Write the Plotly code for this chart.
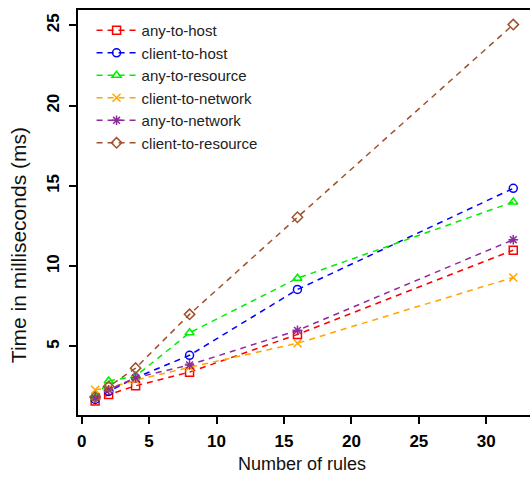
import plotly.graph_objects as go

rules = [1, 2, 4, 8, 16, 32]
series_names = ["any-to-host", "client-to-host", "any-to-resource",
                "client-to-network", "any-to-network", "client-to-resource"]
any_to_host = [1.6, 2.0, 2.55, 3.4, 5.75, 11.0]
client_to_host = [1.7, 2.2, 3.05, 4.45, 8.55, 14.85]
any_to_resource = [1.8, 2.85, 3.15, 5.85, 9.25, 14.0]
client_to_network = [2.3, 2.4, 2.9, 3.7, 5.2, 9.3]
any_to_network = [1.8, 2.3, 3.05, 3.85, 6.0, 11.65]
client_to_resource = [1.85, 2.5, 3.65, 7.0, 13.05, 25.05]

x_ticks = [0, 5, 10, 15, 20, 25, 30]
y_ticks = [5, 10, 15, 20, 25]
x_title = "Number of rules"
y_title = "Time in milliseconds (ms)"

values = [any_to_host, client_to_host, any_to_resource,
          client_to_network, any_to_network, client_to_resource]
colors = ["#FF0000", "#0000FF", "#00EE00", "#FFA500", "#8E2A9E", "#A0522D"]
symbols = ["square-open", "circle-open", "triangle-up-open",
           "x-thin-open", "asterisk-open", "diamond-open"]

fig = go.Figure()
for name, vals, c, s in zip(series_names, values, colors, symbols):
    fig.add_trace(go.Scatter(
        x=rules, y=vals, name=name, mode="lines+markers",
        line=dict(color=c, width=1.5, dash="6px,5px"),
        marker=dict(symbol=s, size=8, color=c, line=dict(color=c, width=1.5)),
    ))

axis_common = dict(
    showline=True, linecolor="black", linewidth=1.5, mirror=True,
    ticks="outside", ticklen=7, tickwidth=1.5, tickcolor="black",
    showgrid=False, zeroline=False, automargin=False,
    tickfont=dict(family="Liberation Sans", size=17, color="black", weight="bold"),
)

fig.update_layout(
    width=530, height=483,
    margin=dict(l=78, r=0, t=10, b=68),
    plot_bgcolor="white", paper_bgcolor="white",
    xaxis=dict(range=[-0.27, 33.24], tickvals=x_ticks, ticklabelstandoff=3,
               **axis_common),
    yaxis=dict(range=[0.73, 25.96], tickvals=y_ticks, tickangle=-90,
               ticklabelstandoff=3, **axis_common),
    legend=dict(x=0.03, y=0.99, xanchor="left", yanchor="top",
                bgcolor="rgba(0,0,0,0)", borderwidth=0, itemwidth=40,
                font=dict(family="Liberation Sans", size=15, color="#222222"),
                tracegroupgap=0),
    showlegend=True,
    annotations=[
        dict(text=x_title, xref="paper", yref="paper", x=0.496, y=-0.121,
             xanchor="center", yanchor="middle", showarrow=False,
             font=dict(family="Liberation Sans", size=18, color="#111111")),
        dict(text=y_title, xref="paper", yref="paper", x=-0.13, y=0.42,
             xanchor="center", yanchor="middle", showarrow=False, textangle=-90,
             font=dict(family="Liberation Sans", size=21, color="#111111")),
    ],
)

fig.write_html("out.html", config={"displayModeBar": False},
               post_script="document.body.style.margin='0';")
